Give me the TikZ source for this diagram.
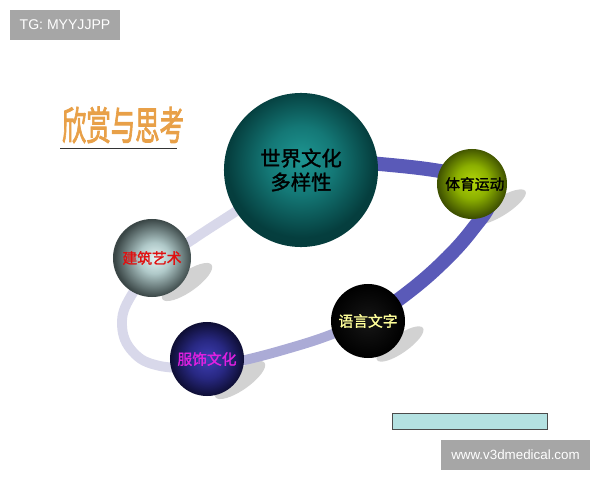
\documentclass[tikz,border=0pt]{standalone}
\usepackage{fontspec}
\setmainfont{Liberation Sans}
\newfontfamily\cjk{Noto Sans CJK SC}[FakeBold=1.5]
\newfontfamily\cjktitle{Noto Sans CJK SC}[FakeBold=2.5]

\definecolor{tggray}{HTML}{A6A6A6}
\definecolor{titleorange}{HTML}{E8A048}
\definecolor{barcyan}{HTML}{B4E2E2}
\definecolor{ringdark}{HTML}{5A5AB8}
\definecolor{ringmid}{HTML}{ABABD6}
\definecolor{ringlight}{HTML}{D8D8EA}
\definecolor{shadowgray}{HTML}{D2D2D2}
\definecolor{langyellow}{HTML}{FFFF99}
\definecolor{archred}{HTML}{E01010}
\definecolor{clothmagenta}{HTML}{E020E0}

% Sphere shadings
\pgfdeclareradialshading{tealball}{\pgfpoint{0bp}{4bp}}{color(0bp)=(rgb,255:red,30;green,150;blue,146); color(11bp)=(rgb,255:red,20;green,120;blue,118); color(24bp)=(rgb,255:red,5;green,62;blue,62); color(50bp)=(rgb,255:red,3;green,50;blue,50)}
\pgfdeclareradialshading{greenball}{\pgfpoint{0bp}{2bp}}{color(0bp)=(rgb,255:red,178;green,214;blue,10); color(12bp)=(rgb,255:red,140;green,176;blue,0); color(25bp)=(rgb,255:red,62;green,80;blue,0); color(50bp)=(rgb,255:red,50;green,64;blue,0)}
\pgfdeclareradialshading{grayball}{\pgfpoint{2bp}{0bp}}{color(0bp)=(rgb,255:red,228;green,245;blue,245); color(10bp)=(rgb,255:red,175;green,200;blue,200); color(25bp)=(rgb,255:red,58;green,70;blue,70); color(50bp)=(rgb,255:red,50;green,60;blue,60)}
\pgfdeclareradialshading{navyball}{\pgfpoint{0bp}{0bp}}{color(0bp)=(rgb,255:red,62;green,62;blue,180); color(13bp)=(rgb,255:red,40;green,40;blue,130); color(25bp)=(rgb,255:red,14;green,14;blue,52); color(50bp)=(rgb,255:red,12;green,12;blue,44)}
\pgfdeclareradialshading{blackball}{\pgfpoint{0bp}{0bp}}{color(0bp)=(rgb,255:red,22;green,22;blue,22); color(25bp)=(black); color(50bp)=(black)}

\tikzset{
  ball/.style={circle, inner sep=0pt, minimum size=#1},
  ballfont/.style={font=\cjk\fontsize{10.5}{12}\selectfont},
  ballshadow/.style={fill=shadowgray},
  ringband/.style={line width=#1, line cap=round},
  graybox/.style={fill=tggray, text=white, inner sep=0pt}
}

\begin{document}
\begin{tikzpicture}[x=0.025cm, y=-0.025cm]
    \useasboundingbox (0,0) rectangle (600,480);

    % Define the sphere centres
    \coordinate (W) at (301,170); % world cultures
    \coordinate (S) at (472,184); % sport
    \coordinate (L) at (368,321); % language
    \coordinate (A) at (152,258); % architecture
    \coordinate (C) at (207,359); % clothing

    % Draw shadows
    \fill[ballshadow] (500,207) ellipse [x radius=30, y radius=9, rotate=32];
    \fill[ballshadow] (400,344) ellipse [x radius=28, y radius=9, rotate=35];
    \fill[ballshadow] (187,282) ellipse [x radius=30, y radius=10, rotate=35];
    \fill[ballshadow] (240,380) ellipse [x radius=30, y radius=10, rotate=35];

    % Draw the ring (back, lower, front)
    \draw[ringband=7pt, ringlight] plot[smooth, tension=0.7] coordinates {(205,368) (160,366) (133,352) (122,325) (131,296) (158,264) (195,238) (235,212) (275,186)};
    \draw[ringband=7pt, ringmid] plot[smooth, tension=0.7] coordinates {(370,318) (330,335) (290,348) (245,360) (205,368)};
    \draw[ringband=10pt, ringdark] plot[smooth, tension=0.7] coordinates {(320,160) (380,164) (440,171) (475,180) (490,200) (472,230) (440,265) (402,297) (370,318)};

    % Draw spheres
    \node (world) at (W) [ball=3.85cm, shading=tealball, font=\cjk\fontsize{14.5}{17}\selectfont, align=center] {世界文化\\多样性};
    \node (sport) at (S) [ball=1.75cm, shading=greenball, ballfont] {\hspace{4pt}体育运动};
    \node (lang) at (L) [ball=1.85cm, shading=blackball, ballfont, text=langyellow] {语言文字};
    \node (arch) at (A) [ball=1.95cm, shading=grayball, ballfont, text=archred] {建筑艺术};
    \node (cloth) at (C) [ball=1.85cm, shading=navyball, ballfont, text=clothmagenta] {服饰文化};

    % Title and boxes
    \node (title) at (123,125) [text=titleorange, font=\cjktitle\fontsize{28}{30}\selectfont, xscale=0.62] {欣赏与思考};
    \draw[black!80] (60,148) -- (177,148);
    \node (tg) at (65,25) [graybox, minimum width=2.75cm, minimum height=0.75cm, font=\fontsize{10}{11}\selectfont] {TG: MYYJJPP};
    \node (bar) at (469.5,421) [draw=black!70, fill=barcyan, minimum width=3.875cm, minimum height=0.4cm] {};
    \node (web) at (515.5,455) [graybox, minimum width=3.725cm, minimum height=0.75cm, font=\fontsize{9.5}{11}\selectfont] {www.v3dmedical.com};
\end{tikzpicture}
\end{document}
